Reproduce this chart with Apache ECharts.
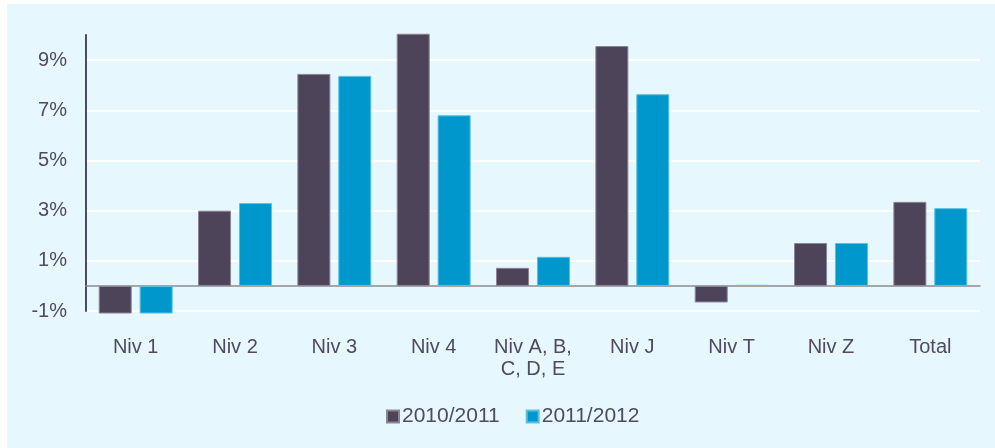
<!DOCTYPE html>
<html>
<head>
<meta charset="utf-8">
<script src="https://cdn.jsdelivr.net/npm/echarts@6/dist/echarts.min.js"></script>
<style>
    html, body { margin: 0; padding: 0; background: #ffffff; }
    #chart { position: absolute; left: 7px; top: 4px; width: 988px; height: 444px; }
</style>
</head>
<body>
<div id="chart"></div>
<script>
// données
const categories = ['Niv 1', 'Niv 2', 'Niv 3', 'Niv 4', 'Niv A, B,\nC, D, E', 'Niv J', 'Niv T', 'Niv Z', 'Total'];
const seriesNames = ['2010/2011', '2011/2012'];
const values2010 = [-1.1, 3.0, 8.45, 10.05, 0.72, 9.56, -0.66, 1.71, 3.35];
const values2011 = [-1.1, 3.3, 8.37, 6.8, 1.16, 7.64, 0.04, 1.71, 3.1];

const textColor = '#4f4a5f';
const font = 'Liberation Sans, Arial, sans-serif';

const chart = echarts.init(document.getElementById('chart'));

const option = {
    backgroundColor: '#e6f8fd',
    animation: false,
    textStyle: { fontFamily: font },
    grid: {
        left: 79,
        right: 15,
        top: 31,
        bottom: 137,
        containLabel: false,
    },
    legend: {
        data: seriesNames,
        bottom: 16,
        left: 374,
        icon: 'rect',
        itemWidth: 12,
        itemHeight: 12,
        itemGap: 26,
        textStyle: { color: textColor, fontSize: 21, fontFamily: font, padding: [0, 0, 0, -2] },
    },
    xAxis: {
        type: 'category',
        data: categories,
        axisLine: { onZero: true, lineStyle: { color: '#8c8c8c', width: 1.5 } },
        axisTick: { show: false },
        axisLabel: {
            interval: 0,
            color: textColor,
            fontSize: 20,
            lineHeight: 22,
            margin: 25,
            fontFamily: font,
        },
    },
    yAxis: {
        type: 'value',
        min: -1,
        max: 10,
        interval: 2,
        axisLine: { show: true, lineStyle: { color: '#4f4a5f', width: 2 } },
        axisTick: { show: false },
        axisLabel: {
            color: textColor,
            fontSize: 20,
            margin: 19,
            showMaxLabel: false,
            fontFamily: font,
            formatter: (v) => v + '%',
        },
        splitLine: {
            show: true,
            showMaxLine: false,
            lineStyle: { color: '#ffffff', width: 2 },
        },
    },
    series: [
        {
            name: seriesNames[0],
            type: 'bar',
            data: values2010,
            barWidth: 33,
            barGap: '24%',
            clip: false,
            itemStyle: { color: '#4d4459', borderColor: '#8a8497', borderWidth: 1 },
        },
        {
            name: seriesNames[1],
            type: 'bar',
            data: values2011,
            barWidth: 33,
            clip: false,
            itemStyle: { color: '#0097cc', borderColor: '#5cc0e2', borderWidth: 1 },
        },
    ],
};

chart.setOption(option);
</script>
</body>
</html>
